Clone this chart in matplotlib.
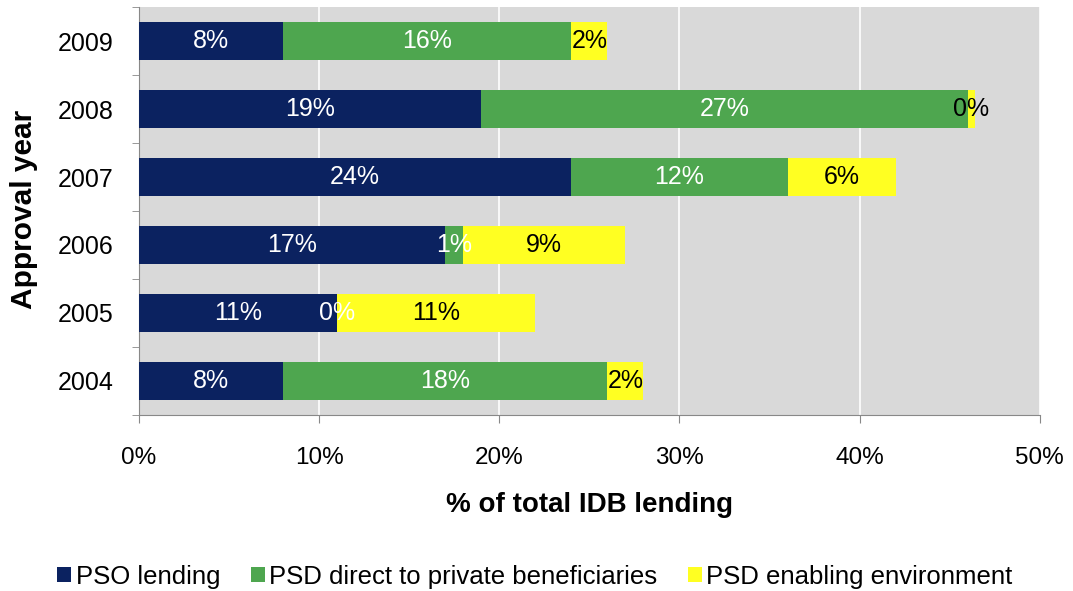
import matplotlib
matplotlib.use('Agg')
import matplotlib.pyplot as plt
from matplotlib.patches import Patch

# ----------------------------------------------------------------
# Dados (de baixo para cima)
# ----------------------------------------------------------------
anos = ['2004', '2005', '2006', '2007', '2008', '2009']
pso_lending = [8, 11, 17, 24, 19, 8]
psd_direct = [18, 0, 1, 12, 27, 16]
psd_enabling = [2, 11, 9, 6, 0.4, 2]

series = ['PSO lending', 'PSD direct to private beneficiaries', 'PSD enabling environment']
xticks = [0, 10, 20, 30, 40, 50]

cores = ['#0b2260', '#4ea64f', '#ffff22']
cor_texto = ['white', 'white', 'black']

plt.rcParams['font.family'] = ['Liberation Sans', 'DejaVu Sans']

fig = plt.figure(figsize=(10.73, 5.91), dpi=100)
ax = fig.add_axes([0.1295, 0.298, 0.8395, 0.690])
ax.set_facecolor('#d9d9d9')

esquerda = [0] * len(anos)
for valores, cor, ctxt in zip([pso_lending, psd_direct, psd_enabling], cores, cor_texto):
    barras = ax.barh(anos, valores, left=esquerda, height=0.56, color=cor, zorder=3)
    for b, v in zip(barras, valores):
        cx = b.get_x() + b.get_width() / 2
        cy = b.get_y() + b.get_height() / 2
        ax.text(cx, cy, f'{v:.0f}%', ha='center', va='center',
                color=ctxt, fontsize=18, zorder=4)
    esquerda = [e + v for e, v in zip(esquerda, valores)]

ax.set_xlim(0, 50)
ax.set_ylim(-0.5, len(anos) - 0.5)
ax.set_xticks(xticks)
ax.set_xticklabels([f'{t}%' for t in xticks], fontsize=17.5)
ax.tick_params(axis='x', length=6, color='#888888', pad=17)
ax.tick_params(axis='y', length=0, labelsize=18, pad=18)
ax.set_yticks([i + 0.5 for i in range(-1, len(anos))], minor=True)
ax.tick_params(axis='y', which='minor', length=5, color='#888888')

ax.grid(axis='x', color='white', linewidth=1.2, zorder=1)
ax.set_axisbelow(True)
for s in ['top', 'right']:
    ax.spines[s].set_visible(False)
for s in ['left', 'bottom']:
    ax.spines[s].set_color('#888888')

ax.set_xlabel('% of total IDB lending', fontsize=20, fontweight='bold')
ax.xaxis.set_label_coords(0.5, -0.19)
ax.set_ylabel('Approval year', fontsize=21.5, fontweight='bold')
ax.yaxis.set_label_coords(-0.112, 0.505)

handles = [Patch(facecolor=c, edgecolor='none') for c in cores]
fig.legend(handles, series, loc='center', bbox_to_anchor=(0.4986, 0.024), ncol=3,
           frameon=False, handlelength=0.55, handleheight=0.55, handletextpad=0.16,
           columnspacing=1.2, borderpad=0, prop={'size': 18.5})

plt.savefig('out.png', dpi=100)
plt.close()
